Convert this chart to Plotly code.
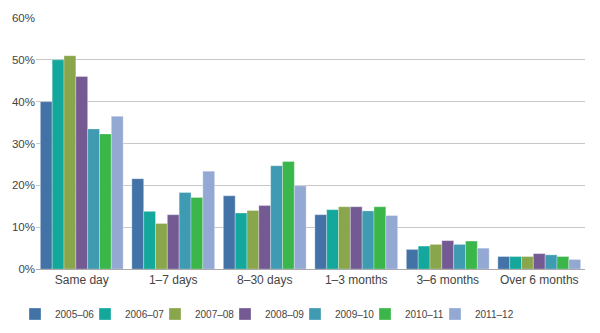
import plotly.graph_objects as go

categories = ["Same day", "1–7 days", "8–30 days", "1–3 months", "3–6 months", "Over 6 months"]
years = ["2005–06", "2006–07", "2007–08", "2008–09", "2009–10", "2010–11", "2011–12"]
v2005 = [40.0, 21.6, 17.5, 13.0, 4.7, 3.0]
v2006 = [50.0, 13.8, 13.4, 14.2, 5.5, 3.0]
v2007 = [51.0, 10.9, 14.0, 14.9, 5.9, 3.0]
v2008 = [46.0, 13.0, 15.2, 14.9, 6.8, 3.7]
v2009 = [33.5, 18.3, 24.7, 13.9, 5.9, 3.4]
v2010 = [32.3, 17.1, 25.7, 14.9, 6.7, 3.0]
v2011 = [36.5, 23.4, 19.9, 12.8, 5.0, 2.3]
series = [v2005, v2006, v2007, v2008, v2009, v2010, v2011]
colors = ["#4372a7", "#14a79b", "#89a64d", "#735a92", "#3f9bb1", "#3bb64b", "#93a9d4"]

fig = go.Figure()
legend_layout = {}
for i, (name, vals, c) in enumerate(zip(years, series, colors)):
    key = "legend" if i == 0 else f"legend{i + 1}"
    fig.add_trace(go.Bar(x=categories, y=vals, name=name, marker_color=c,
                         marker_line_color="rgba(255,255,255,0.6)", marker_line_width=0.5,
                         legend=key))
    legend_layout[key] = dict(
        orientation="h", xref="container", yref="container",
        x=(15 + 70 * i) / 600, xanchor="left", y=(333 - 314) / 333, yanchor="middle",
        font=dict(size=10, color="#444"), itemwidth=30,
        bgcolor="rgba(0,0,0,0)", borderwidth=0)

fig.update_layout(
    width=600, height=333,
    margin=dict(l=34, r=15, t=15, b=61),
    barmode="group", bargap=0.095, bargroupgap=0,
    plot_bgcolor="white", paper_bgcolor="white",
    font=dict(family="Liberation Sans, Arial, sans-serif", size=11.5, color="#444"),
    showlegend=True,
    yaxis=dict(range=[0, 60], dtick=10, ticksuffix="%", showgrid=True,
               gridcolor="#c8c8c8", gridwidth=1, zeroline=False,
               ticks="", tickfont=dict(size=11.5, color="#444")),
    xaxis=dict(showline=True, linecolor="#aaaaaa", linewidth=1, ticks="",
               tickfont=dict(size=12, color="#444")),
    **legend_layout,
)
fig.write_html("out.html")
